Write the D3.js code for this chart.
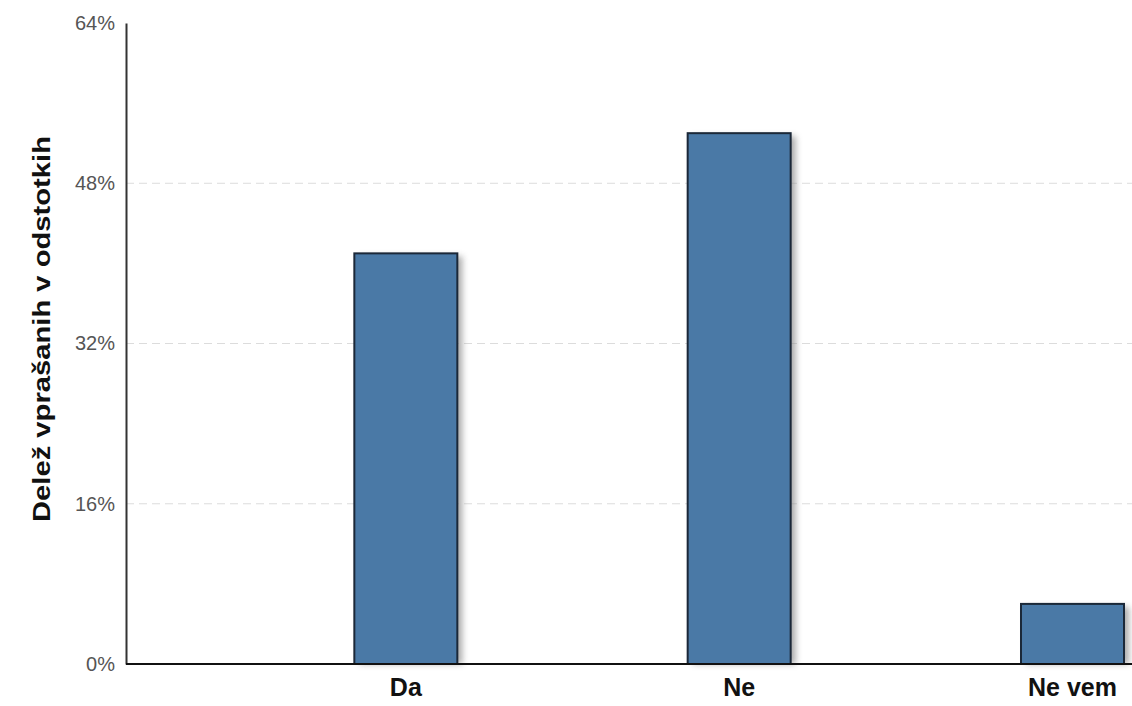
<!DOCTYPE html>
<html>
<head>
<meta charset="utf-8">
<script src="https://cdn.jsdelivr.net/npm/d3@7"></script>
<style>
  html, body { margin: 0; padding: 0; background: #fff; }
  svg { display: block; }
</style>
</head>
<body>
<svg id="chart" width="1132" height="706"></svg>
<script>
const categories = ["Da", "Ne", "Ne vem"];
const values = [41, 53, 6];
const yTicks = [0, 16, 32, 48, 64];
const yGridTicks = [16, 32, 48];
const yTitle = "Delež vprašanih v odstotkih";

const svg = d3.select("#chart");
const W = 1132, H = 706;
const m = { left: 126, right: 6, top: 23, bottom: 42 };

const y = d3.scaleLinear().domain([0, 64]).range([H - m.bottom, m.top]);
const x = d3.scaleBand().domain(categories).range([m.left, W - m.right]).paddingInner(0).paddingOuter(0);

const barW = x.bandwidth() * 0.309;
const barX = c => x(c) + x.bandwidth() - barW - 2;

const defs = svg.append("defs");
const f = defs.append("filter").attr("id", "shadow").attr("x", "-20%").attr("y", "-20%").attr("width", "140%").attr("height", "140%");
f.append("feGaussianBlur").attr("stdDeviation", 3);

// gridlines
svg.append("g").selectAll("line").data(yGridTicks).join("line")
  .attr("x1", m.left).attr("x2", W)
  .attr("y1", d => y(d)).attr("y2", d => y(d))
  .attr("stroke", "#dcdcdc").attr("stroke-width", 1)
  .attr("stroke-dasharray", "8,5");

// bar shadows
svg.append("g").selectAll("rect").data(values).join("rect")
  .attr("x", (d, i) => barX(categories[i]) + 5)
  .attr("y", d => y(d) + 3)
  .attr("width", barW)
  .attr("height", d => y(0) - y(d) - 3)
  .attr("fill", "#888").attr("opacity", 0.7)
  .attr("filter", "url(#shadow)");

// bars
svg.append("g").selectAll("rect").data(values).join("rect")
  .attr("x", (d, i) => barX(categories[i]))
  .attr("y", d => y(d))
  .attr("width", barW)
  .attr("height", d => y(0) - y(d))
  .attr("fill", "#4a79a6")
  .attr("stroke", "#1b2838").attr("stroke-width", 2);

// y axis
const yAxis = d3.axisLeft(y).tickValues(yTicks).tickFormat(d => d + "%").tickSize(0).tickPadding(11);
const gy = svg.append("g").attr("transform", `translate(${m.left},0)`).call(yAxis);
gy.select(".domain").attr("stroke", "#333").attr("stroke-width", 2);
gy.selectAll("text").attr("font-family", "Arial, 'Liberation Sans', sans-serif")
  .attr("font-size", 20).attr("fill", "#555");

// x axis
const xAxis = d3.axisBottom(x).tickSize(0).tickFormat(() => "");
const gx = svg.append("g").attr("transform", `translate(0,${y(0)})`).call(xAxis);
gx.select(".domain").attr("d", `M${m.left},0H${W}`).attr("stroke", "#111").attr("stroke-width", 2);

// x labels centered on bars
svg.append("g").selectAll("text").data(categories).join("text")
  .attr("x", c => barX(c) + barW / 2)
  .attr("y", 696)
  .attr("text-anchor", "middle")
  .attr("font-family", "Arial, 'Liberation Sans', sans-serif")
  .attr("font-weight", "bold")
  .attr("font-size", 25)
  .attr("fill", "#111")
  .text(c => c);

// y title
svg.append("text")
  .attr("transform", `translate(50,329) rotate(-90)`)
  .attr("text-anchor", "middle")
  .attr("font-family", "Arial, 'Liberation Sans', sans-serif")
  .attr("font-weight", "bold")
  .attr("font-size", 23)
  .attr("fill", "#111")
  .attr("textLength", 386)
  .attr("lengthAdjust", "spacingAndGlyphs")
  .text(yTitle);
</script>
</body>
</html>
